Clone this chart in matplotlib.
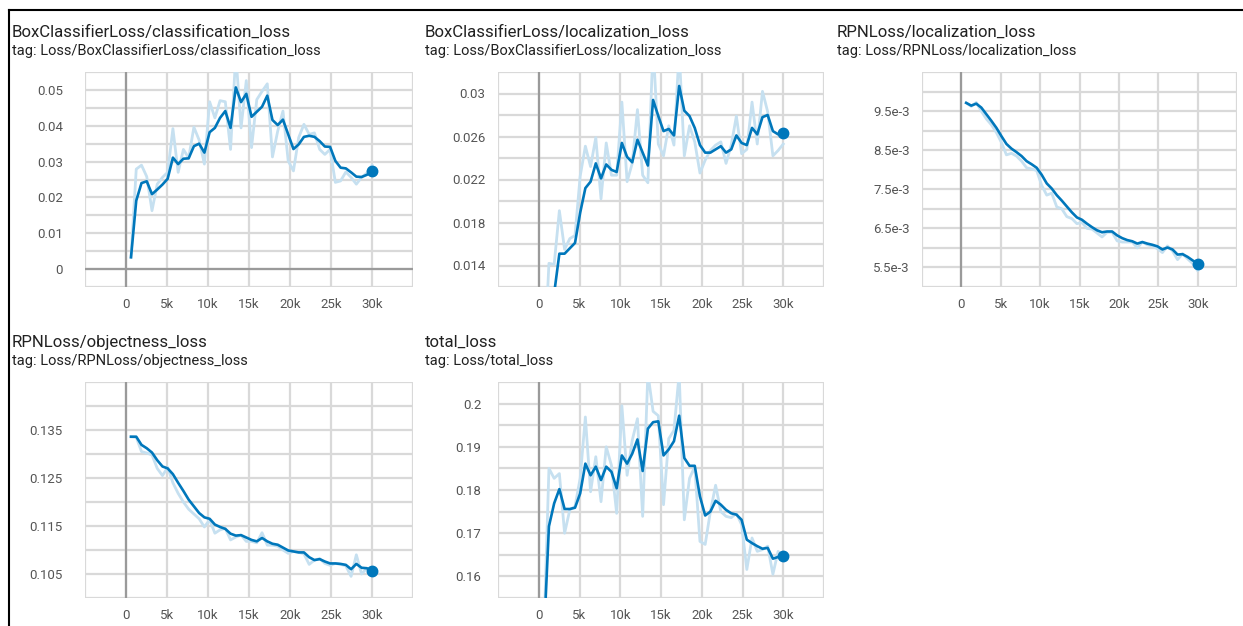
import matplotlib
matplotlib.use("Agg")
import matplotlib.pyplot as plt
from matplotlib.lines import Line2D

plt.rcParams["font.family"] = ["Roboto", "DejaVu Sans"]

# evaluation steps shared by every scalar
steps = [610, 1250, 1890, 2530, 3170, 3810, 4450, 5080, 5720, 6360,
         7000, 7640, 8280, 8920, 9560, 10200, 10840, 11470, 12110, 12750,
         13390, 14030, 14670, 15310, 15950, 16590, 17230, 17860, 18500, 19140,
         19780, 20420, 21060, 21700, 22340, 22980, 23620, 24250, 24890, 25530,
         26170, 26810, 27450, 28090, 28730, 29370, 30000]

cls_raw = [0.0033, 0.0279, 0.0290, 0.0258, 0.0163, 0.0237, 0.0256, 0.0270, 0.0392, 0.0270,
           0.0334, 0.0310, 0.0396, 0.0360, 0.0293, 0.0467, 0.0422, 0.0470, 0.0467, 0.0334,
           0.0600, 0.0394, 0.0526, 0.0339, 0.0473, 0.0496, 0.0517, 0.0313, 0.0385, 0.0441,
           0.0302, 0.0274, 0.0367, 0.0404, 0.0376, 0.0380, 0.0334, 0.0320, 0.0334, 0.0242,
           0.0246, 0.0271, 0.0256, 0.0237, 0.0256, 0.0268, 0.0290]
cls_smooth = [0.0033, 0.0191, 0.0240, 0.0245, 0.0209, 0.0222, 0.0236, 0.0252, 0.0311, 0.0293,
              0.0308, 0.0309, 0.0343, 0.0350, 0.0325, 0.0382, 0.0394, 0.0422, 0.0441, 0.0394,
              0.0507, 0.0466, 0.0489, 0.0425, 0.0439, 0.0453, 0.0484, 0.0416, 0.0402, 0.0417,
              0.0376, 0.0335, 0.0348, 0.0369, 0.0372, 0.0369, 0.0357, 0.0342, 0.0341, 0.0302,
              0.0283, 0.0281, 0.0270, 0.0258, 0.0257, 0.0263, 0.0273]

boxloc_raw = [0.0040, 0.0142, 0.0141, 0.0191, 0.0155, 0.0165, 0.0168, 0.0223, 0.0251, 0.0232,
              0.0259, 0.0202, 0.0254, 0.0224, 0.0224, 0.0292, 0.0218, 0.0235, 0.0285, 0.0224,
              0.0217, 0.0345, 0.0253, 0.0242, 0.0270, 0.0252, 0.0340, 0.0242, 0.0270, 0.0255,
              0.0226, 0.0238, 0.0247, 0.0252, 0.0255, 0.0235, 0.0252, 0.0279, 0.0244, 0.0248,
              0.0292, 0.0253, 0.0302, 0.0283, 0.0242, 0.0247, 0.0253]
boxloc_smooth = [0.0040, 0.0095, 0.0114, 0.0151, 0.0151, 0.0156, 0.0161, 0.0189, 0.0212, 0.0218,
                 0.0235, 0.0221, 0.0234, 0.0229, 0.0227, 0.0254, 0.0241, 0.0236, 0.0257, 0.0245,
                 0.0233, 0.0294, 0.0279, 0.0265, 0.0267, 0.0261, 0.0307, 0.0284, 0.0279, 0.0268,
                 0.0252, 0.0245, 0.0245, 0.0248, 0.0251, 0.0245, 0.0248, 0.0261, 0.0254, 0.0252,
                 0.0268, 0.0262, 0.0278, 0.0280, 0.0265, 0.0262, 0.0263]

rpnloc_raw = [0.00971, 0.00962, 0.00972, 0.00950, 0.00930, 0.00915, 0.00895, 0.00870, 0.00838, 0.00842,
              0.00835, 0.00822, 0.00805, 0.00802, 0.00798, 0.00760, 0.00735, 0.00740, 0.00705, 0.00700,
              0.00680, 0.00675, 0.00662, 0.00665, 0.00650, 0.00648, 0.00638, 0.00628, 0.00640, 0.00640,
              0.00618, 0.00615, 0.00615, 0.00615, 0.00600, 0.00615, 0.00608, 0.00605, 0.00598, 0.00588,
              0.00605, 0.00592, 0.00570, 0.00585, 0.00572, 0.00560, 0.00542]
rpnloc_smooth = [0.00971, 0.00964, 0.00969, 0.00959, 0.00942, 0.00925, 0.00907, 0.00886, 0.00866, 0.00854,
                 0.00845, 0.00835, 0.00822, 0.00814, 0.00805, 0.00787, 0.00765, 0.00752, 0.00735, 0.00721,
                 0.00706, 0.00691, 0.00678, 0.00672, 0.00662, 0.00653, 0.00645, 0.00640, 0.00642, 0.00642,
                 0.00632, 0.00625, 0.00620, 0.00617, 0.00611, 0.00615, 0.00611, 0.00608, 0.00604, 0.00596,
                 0.00601, 0.00596, 0.00583, 0.00584, 0.00577, 0.00568, 0.00560]

obj_raw = [0.1336, 0.1335, 0.1305, 0.1302, 0.1298, 0.1270, 0.1255, 0.1272, 0.1240, 0.1218,
           0.1200, 0.1185, 0.1175, 0.1165, 0.1148, 0.1163, 0.1135, 0.1142, 0.1145, 0.1121,
           0.1127, 0.1131, 0.1118, 0.1118, 0.1115, 0.1136, 0.1110, 0.1110, 0.1108, 0.1100,
           0.1093, 0.1097, 0.1095, 0.1092, 0.1070, 0.1079, 0.1082, 0.1072, 0.1068, 0.1072,
           0.1070, 0.1067, 0.1045, 0.1090, 0.1050, 0.1062, 0.1056]
obj_smooth = [0.1336, 0.1336, 0.1319, 0.1312, 0.1303, 0.1287, 0.1274, 0.1270, 0.1258, 0.1240,
              0.1223, 0.1205, 0.1191, 0.1177, 0.1168, 0.1165, 0.1153, 0.1148, 0.1144, 0.1134,
              0.1130, 0.1131, 0.1126, 0.1121, 0.1118, 0.1125, 0.1118, 0.1113, 0.1111, 0.1105,
              0.1099, 0.1097, 0.1095, 0.1095, 0.1085, 0.1079, 0.1081, 0.1076, 0.1072, 0.1072,
              0.1071, 0.1069, 0.1060, 0.1071, 0.1063, 0.1062, 0.1056]

total_raw = [0.1450, 0.1850, 0.1827, 0.1838, 0.1700, 0.1754, 0.1762, 0.1827, 0.1969, 0.1796,
             0.1877, 0.1773, 0.1900, 0.1857, 0.1746, 0.1995, 0.1834, 0.1915, 0.1965, 0.1739,
             0.2070, 0.1982, 0.1972, 0.1766, 0.1919, 0.1938, 0.2070, 0.1731, 0.1827, 0.1854,
             0.1681, 0.1674, 0.1750, 0.1811, 0.1750, 0.1739, 0.1736, 0.1746, 0.1720, 0.1616,
             0.1689, 0.1658, 0.1662, 0.1670, 0.1605, 0.1658, 0.1648]
total_smooth = [0.1450, 0.1716, 0.1769, 0.1802, 0.1756, 0.1756, 0.1759, 0.1792, 0.1861, 0.1834,
                0.1854, 0.1823, 0.1854, 0.1842, 0.1804, 0.1880, 0.1861, 0.1884, 0.1917, 0.1844,
                0.1942, 0.1957, 0.1959, 0.1880, 0.1894, 0.1913, 0.1972, 0.1874, 0.1856, 0.1856,
                0.1785, 0.1741, 0.1750, 0.1775, 0.1766, 0.1754, 0.1746, 0.1743, 0.1731, 0.1685,
                0.1677, 0.1670, 0.1664, 0.1666, 0.1641, 0.1645, 0.1648]

x_ticks = [0, 5000, 10000, 15000, 20000, 25000, 30000]
x_labels = ["0", "5k", "10k", "15k", "20k", "25k", "30k"]

W, H = 1243, 626
BLUE = "#0077bb"
LIGHT = "#c6e0f0"
GRID = "#d9d9d9"
ZERO = "#9a9a9a"

# name, raw, smoothed, ylim, labelled ticks, tick labels, grid step, axes box (px), label pad
panels = [
    ("BoxClassifierLoss/classification_loss", cls_raw, cls_smooth, (-0.005, 0.055),
     [0, 0.01, 0.02, 0.03, 0.04, 0.05], ["0", "0.01", "0.02", "0.03", "0.04", "0.05"],
     0.005, (85, 72, 413, 287), 16),
    ("BoxClassifierLoss/localization_loss", boxloc_raw, boxloc_smooth, (0.012, 0.032),
     [0.014, 0.018, 0.022, 0.026, 0.03], ["0.014", "0.018", "0.022", "0.026", "0.03"],
     0.002, (498, 72, 824, 287), 9),
    ("RPNLoss/localization_loss", rpnloc_raw, rpnloc_smooth, (0.005, 0.0105),
     [0.0055, 0.0065, 0.0075, 0.0085, 0.0095], ["5.5e-3", "6.5e-3", "7.5e-3", "8.5e-3", "9.5e-3"],
     0.0005, (922, 72, 1237, 287), 9),
    ("RPNLoss/objectness_loss", obj_raw, obj_smooth, (0.1, 0.145),
     [0.105, 0.115, 0.125, 0.135], ["0.105", "0.115", "0.125", "0.135"],
     0.005, (85, 382, 413, 598), 16),
    ("total_loss", total_raw, total_smooth, (0.155, 0.205),
     [0.16, 0.17, 0.18, 0.19, 0.2], ["0.16", "0.17", "0.18", "0.19", "0.2"],
     0.005, (498, 382, 824, 598), 12),
]

fig = plt.figure(figsize=(W / 100, H / 100), dpi=100)

for name, raw, smooth, ylim, yt, ytl, step, box, pad in panels:
    x0, y0, x1, y1 = box
    ax = fig.add_axes([x0 / W, 1 - y1 / H, (x1 - x0) / W, (y1 - y0) / H])
    ax.set_xlim(-5000, 35000)
    ax.set_ylim(*ylim)

    # grid every half major step, labels only on the major ones
    n = int(round((ylim[1] - ylim[0]) / step))
    grid_y = [ylim[0] + i * step for i in range(n + 1)]
    ax.set_yticks(grid_y, minor=True)
    ax.set_yticks(yt, ytl)
    ax.set_xticks(range(-5000, 35001, 5000), minor=True)
    ax.set_xticks(x_ticks, x_labels)
    ax.grid(True, which="both", color=GRID, linewidth=1.6)
    ax.set_axisbelow(True)
    ax.axvline(0, color=ZERO, linewidth=1.6, zorder=1)
    if ylim[0] < 0 < ylim[1]:
        ax.axhline(0, color=ZERO, linewidth=1.6, zorder=1)

    ax.tick_params(which="both", length=0, labelsize=9.5, colors="#555555")
    ax.tick_params(axis="y", pad=pad)
    ax.tick_params(axis="x", pad=8)
    for s in ax.spines.values():
        s.set_visible(False)

    ax.plot(steps, raw, color=LIGHT, linewidth=2.0, zorder=2)
    ax.plot(steps, smooth, color=BLUE, linewidth=1.9, zorder=3)
    ax.plot(steps[-1], smooth[-1], "o", color=BLUE, markersize=7.5, zorder=4)

    tx = 12 if x0 < 200 else (425 if x0 < 600 else 837)
    ty = 32 if y0 < 200 else 342
    fig.text(tx / W, 1 - ty / H, name, fontsize=12.1, color="#212121", va="center")
    fig.text(tx / W, 1 - (ty + 19) / H, "tag: Loss/" + name, fontsize=10.5,
             color="#212121", va="center")

# frame around the dashboard
fig.add_artist(Line2D([9 / W, 1], [1 - 10 / H, 1 - 10 / H], color="black", linewidth=1.5))
fig.add_artist(Line2D([9 / W, 9 / W], [0, 1 - 10 / H], color="black", linewidth=1.5))

fig.savefig("out.png", dpi=100)
